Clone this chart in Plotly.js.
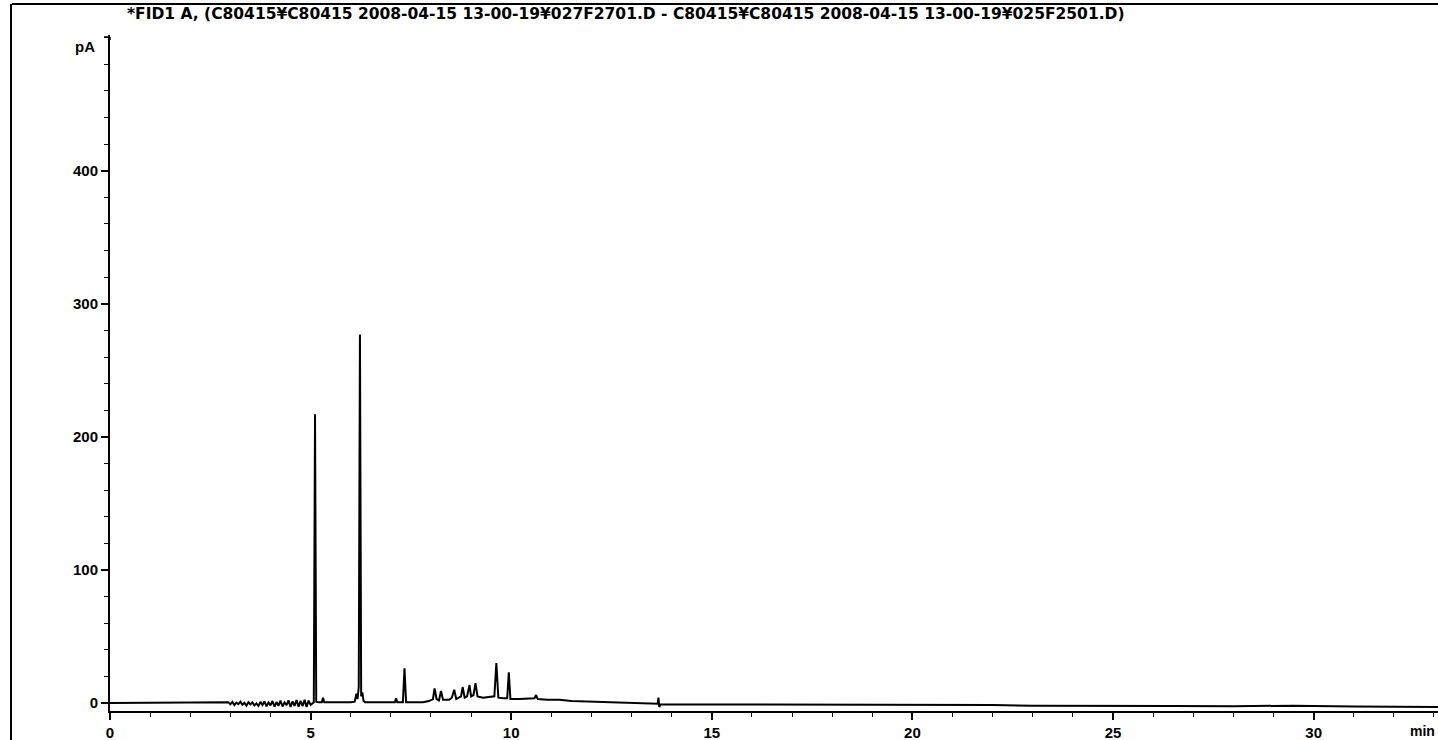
<!DOCTYPE html>
<html>
<head>
<meta charset="utf-8">
<script src="https://cdn.plot.ly/plotly-3.0.1.min.js"></script>
<style>
  html, body { margin: 0; padding: 0; background: #fff; }
  #chart { width: 1438px; height: 740px; }
</style>
</head>
<body>
<div id="chart"></div>
<script>
// FID1 A difference chromatogram: retention time (min) vs detector signal (pA)
const timeMin = [
  0, 2.9,
  2.95, 3.0, 3.05, 3.1, 3.15, 3.2, 3.25, 3.3, 3.35, 3.4,
  3.45, 3.5, 3.55, 3.6, 3.65, 3.7, 3.75, 3.8, 3.85, 3.9,
  3.95, 4.0, 4.05, 4.1, 4.15, 4.2, 4.25, 4.3, 4.35, 4.4,
  4.45, 4.5, 4.55, 4.6, 4.65, 4.7, 4.75, 4.8, 4.85, 4.9,
  4.95, 5.0, 5.05,
  5.08, 5.11, 5.14, 5.2, 5.28, 5.31, 5.34,
  6.0, 6.1, 6.14, 6.17, 6.2, 6.23, 6.26, 6.29, 6.32, 6.36,
  7.0, 7.1, 7.13, 7.16, 7.3, 7.34, 7.38,
  7.8, 7.95, 8.05, 8.09, 8.14, 8.2, 8.25, 8.3,
  8.45, 8.52, 8.58, 8.63, 8.7, 8.75, 8.79, 8.84, 8.9, 8.96, 9.0, 9.06, 9.11, 9.16,
  9.3, 9.45, 9.58, 9.63, 9.68, 9.8, 9.9, 9.94, 9.98,
  10.2, 10.5, 10.58, 10.62, 10.66, 10.9, 11.2, 11.5, 12.0, 12.5, 13.0,
  13.6, 13.65, 13.67, 13.69, 13.72,
  14.5, 16, 18, 20, 22, 23, 25, 26.5, 28, 29.5, 31, 32.5, 33.1
];
const signalPA = [
  0, 0,
  0.5, -1, 0.8, -1.5, 0.3, -0.8, 1, -1.2, 0.2, -2,
  0.6, -1, 0.4, -1.8, -0.3, -2.2, 0.9, -1.5, 1.2, -2.5,
  0.4, -1.8, 1.5, -2.8, 0.7, -2, 1.8, -2.6, 0.5, -1.6,
  2, -3, 1.2, -2.2, 2.3, -2.8, 1.6, -2.4, 2.4, -3,
  1.8, -1.5, -0.5,
  0.5, 217, 1, 0.5, 0.5, 4, 0.5,
  0.5, 1, 7, 3, 12, 277, 5, 8, 1.5, 0.5,
  0.5, 0.5, 3.5, 0.5, 0.5, 26, 0.5,
  0.5, 1.5, 3, 11, 3, 2, 9, 2.5,
  2.5, 4, 10, 3, 4, 5, 12, 4, 5, 13.5, 5, 6, 15, 5,
  4, 4.5, 5, 30, 4, 3.5, 3.5, 23, 3,
  3, 3, 3.5, 6, 3, 2.5, 2.5, 1.5, 1, 0.5, 0,
  -0.5, -0.5, 4, -3, -1,
  -1, -1.2, -1.5, -1.3, -1.5, -2, -1.8, -2.2, -2.4, -2, -2.6, -2.8, -3
];

const yTickVals = [0, 100, 200, 300, 400];
const xTickVals = [0, 5, 10, 15, 20, 25, 30];

const titleText = '*FID1 A, (C80415¥C80415 2008-04-15 13-00-19¥027F2701.D - C80415¥C80415 2008-04-15 13-00-19¥025F2501.D)';

const W = 1438, H = 740;
const M = { l: 110, r: 0, t: 35, b: 29 };
// helpers converting page pixels to paper fractions for decorations
const px = v => (v - M.l) / (W - M.l - M.r);
const py = v => (H - M.b - v) / (H - M.t - M.b);

const tickFont = { family: 'Liberation Sans, Arial, sans-serif', size: 15, color: '#000', weight: 'bold' };

const trace = {
  x: timeMin,
  y: signalPA,
  type: 'scatter',
  mode: 'lines',
  line: { color: '#000', width: 2 },
  hoverinfo: 'x+y'
};

const layout = {
  width: W, height: H,
  margin: M,
  paper_bgcolor: '#fff',
  plot_bgcolor: '#fff',
  showlegend: false,
  title: {
    text: titleText,
    xref: 'container', yref: 'container',
    x: 127 / W, xanchor: 'left',
    y: 1 - 14 / H, yanchor: 'middle',
    font: { family: 'DejaVu Sans, sans-serif', size: 15.5, color: '#000', weight: 'bold' }
  },
  xaxis: {
    range: [0, 33.1],
    showgrid: false, zeroline: false,
    showline: true, linecolor: '#000', linewidth: 2,
    ticks: 'outside', ticklen: 7, tickwidth: 2, tickcolor: '#000',
    tickvals: xTickVals, ticktext: xTickVals.map(String),
    tickfont: tickFont,
    minor: { dtick: 1, tick0: 0, ticks: 'outside', ticklen: 4, tickwidth: 1, tickcolor: '#000' },
    fixedrange: true
  },
  yaxis: {
    range: [-6, 502],
    showgrid: false, zeroline: false,
    showline: true, linecolor: '#000', linewidth: 2,
    ticks: 'outside', ticklen: 7, tickwidth: 2, tickcolor: '#000',
    tickvals: yTickVals, ticktext: yTickVals.map(String),
    tickfont: tickFont,
    minor: { dtick: 20, tick0: 0, ticks: 'outside', ticklen: 4, tickwidth: 1, tickcolor: '#000' },
    fixedrange: true
  },
  annotations: [
    { text: 'pA', xref: 'paper', yref: 'paper', x: px(97), y: py(46),
      xanchor: 'right', yanchor: 'middle', showarrow: false,
      font: { family: 'Liberation Sans, Arial, sans-serif', size: 15, color: '#000', weight: 'bold' } },
    { text: 'min', xref: 'paper', yref: 'paper', x: px(1437), y: py(731),
      xanchor: 'right', yanchor: 'middle', showarrow: false,
      font: { family: 'Liberation Sans, Arial, sans-serif', size: 14, color: '#000', weight: 'bold' } }
  ],
  shapes: [
    // page frame lines
    { type: 'line', xref: 'paper', yref: 'paper', x0: px(12), x1: px(1438), y0: py(4), y1: py(4),
      line: { color: '#000', width: 2 } },
    { type: 'line', xref: 'paper', yref: 'paper', x0: px(11), x1: px(11), y0: py(4), y1: py(740),
      line: { color: '#000', width: 2 } },
    // bracket at top of the signal axis
    { type: 'line', xref: 'paper', yref: 'paper', x0: px(104), x1: px(110), y0: py(37), y1: py(37),
      line: { color: '#000', width: 1.5 } },
    { type: 'line', xref: 'paper', yref: 'paper', x0: px(110), x1: px(110), y0: py(37), y1: py(40),
      line: { color: '#000', width: 1.5, dash: 'dot' } }
  ]
};

Plotly.newPlot('chart', [trace], layout, { displayModeBar: false, staticPlot: true });
</script>
</body>
</html>
